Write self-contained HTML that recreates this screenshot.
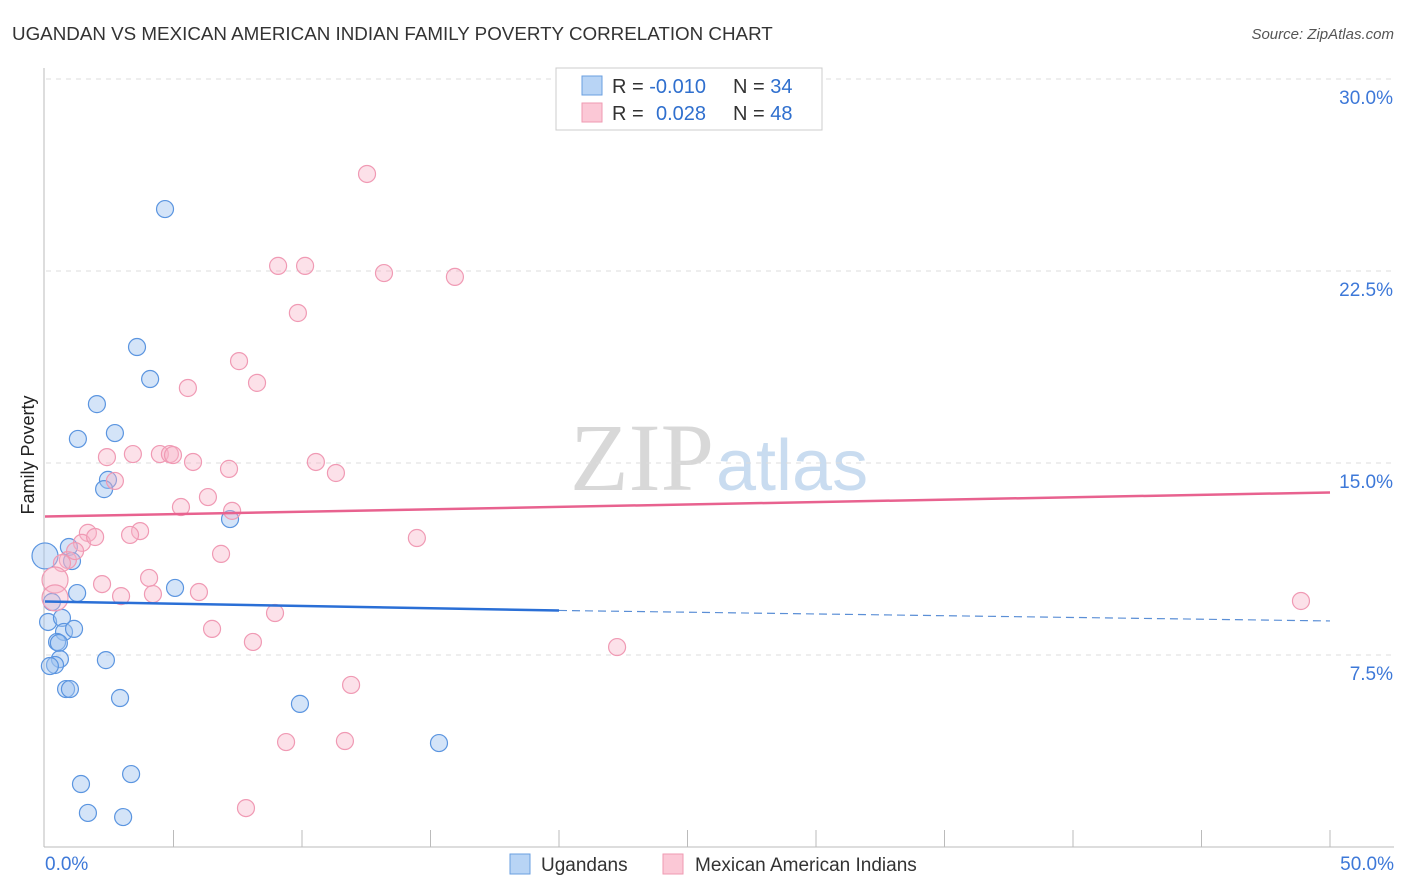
<!DOCTYPE html>
<html><head><meta charset="utf-8"><style>
body{margin:0;background:#fff;font-family:"Liberation Sans",sans-serif}
svg{display:block}
</style></head><body>
<svg id="c" width="1406" height="892">
<text x="12" y="40" font-size="18.8" fill="#333">UGANDAN VS MEXICAN AMERICAN INDIAN FAMILY POVERTY CORRELATION CHART</text>
<text x="1394" y="39" font-size="15" fill="#555" font-style="italic" text-anchor="end">Source: ZipAtlas.com</text>
<text x="714" y="490" font-size="96" fill="#d8d8d8" text-anchor="end" font-family="Liberation Serif,serif">ZIP</text>
<text x="716" y="490" font-size="72" fill="#c9dcf0">atlas</text>
<text x="34" y="455" font-size="18" fill="#222" text-anchor="middle" transform="rotate(-90 34 455)">Family Poverty</text>
<g id="grid"></g><g id="pts"></g><g id="lines"></g>
<g>
<rect x="556" y="68" width="266" height="62" fill="#fff" stroke="#ccc"/>
<rect x="582" y="76" width="20" height="19" fill="#b8d4f5" stroke="#6a9fe0"/>
<rect x="582" y="103" width="20" height="19" fill="#fbc8d6" stroke="#ef9ab2"/>
<text x="612" y="93" font-size="20" fill="#333">R = <tspan fill="#2f6fce">-0.010</tspan><tspan x="733">N = </tspan><tspan fill="#2f6fce">34</tspan></text>
<text x="612" y="120" font-size="20" fill="#333">R = <tspan fill="#2f6fce" x="656">0.028</tspan><tspan x="733">N = </tspan><tspan fill="#2f6fce">48</tspan></text>
</g>
<g>
<rect x="510" y="854" width="20" height="20" fill="#b8d4f5" stroke="#6a9fe0"/>
<text x="541" y="871" font-size="19" fill="#333">Ugandans</text>
<rect x="663" y="854" width="20" height="20" fill="#fbc8d6" stroke="#ef9ab2"/>
<text x="695" y="871" font-size="19" fill="#333">Mexican American Indians</text>
</g>
</svg>
<script>
const xTickLabels=["0.0%","50.0%"];
const yTicks=[7.5,15,22.5,30];
const yTickLabels=["7.5%","15.0%","22.5%","30.0%"];
const blueX=[4.67,3.58,4.09,2.02,1.28,2.72,2.45,2.30,7.20,0.93,1.05,0,5.06,1.25,0.27,0.12,0.66,0.74,1.13,0.47,0.54,0.58,0.39,0.19,2.37,0.82,0.97,2.92,9.92,15.33,1.40,3.35,1.67,3.04];
const blueY=[24.92,19.53,18.28,17.30,15.94,16.17,14.34,13.98,12.81,11.72,11.17,11.37,10.12,9.92,9.57,8.79,8.95,8.40,8.52,8.01,7.97,7.34,7.11,7.07,7.30,6.17,6.17,5.82,5.59,4.06,2.46,2.85,1.33,1.17];
const pinkX=[12.53,9.07,10.12,13.19,15.95,9.84,7.55,5.56,8.25,2.41,3.42,4.47,4.86,4.98,5.76,7.16,10.54,11.32,2.72,6.34,5.29,7.28,1.67,1.44,1.95,3.70,3.31,14.47,0.89,0.66,1.17,6.85,0.39,4.05,2.22,0.39,2.96,4.20,5.99,8.95,6.50,8.09,22.26,11.91,9.38,11.67,7.82,48.87];
const pinkY=[26.29,22.70,22.70,22.42,22.27,20.86,18.98,17.93,18.13,15.23,15.35,15.35,15.35,15.31,15.04,14.77,15.04,14.61,14.30,13.67,13.28,13.13,12.27,11.88,12.11,12.34,12.19,12.07,11.21,11.09,11.56,11.45,10.43,10.51,10.27,9.73,9.80,9.88,9.96,9.14,8.52,8.01,7.81,6.33,4.10,4.14,1.52,9.61];
const blueTrend=[9.59,9.24,8.83];
const pinkTrend=[12.91,13.85];
const X=v=>45+v*25.7, Y=v=>847-v*25.6;
const NS="http://www.w3.org/2000/svg";
function mk(t,a,p){const e=document.createElementNS(NS,t);for(const k in a)e.setAttribute(k,a[k]);p.appendChild(e);return e;}
const g=document.getElementById('grid');
const ax=mk('line',{x1:44,y1:68,x2:44,y2:847,stroke:'#bbb'},g);


const bx=mk('line',{x1:44,y1:847,x2:1394,y2:847,stroke:'#bbb'},g);


for(let i=1;i<=10;i++){const t=mk('line',{x1:X(i*5),y1:830,x2:X(i*5),y2:847,stroke:'#bbb'},g);

}
yTicks.forEach((v,i)=>{const l=mk('line',{x1:46,y1:Y(v),x2:1394,y2:Y(v),stroke:'#ddd','stroke-dasharray':'5,5'},g);


const t=mk('text',{x:1393,y:Y(v)+25,'font-size':19,fill:'#3d78d8','text-anchor':'end'},g);t.textContent=yTickLabels[i];

});
[[X(0)+0,'start'],[1394,'end']].forEach((p,i)=>{const t=mk('text',{x:p[0],y:870,'font-size':19,fill:'#3d78d8','text-anchor':p[1]},g);t.textContent=xTickLabels[i];

});
const pg=document.getElementById('pts');
blueX.forEach((v,i)=>{const c=mk('circle',{cx:X(v),cy:Y(blueY[i]),r:v===0?13:8.5,fill:'rgba(160,195,240,0.45)',stroke:'#5b95e0','stroke-width':1.2},pg);

});
pinkX.forEach((v,i)=>{const c=mk('circle',{cx:X(v),cy:Y(pinkY[i]),r:v<0.5?13:8.5,fill:'rgba(248,180,200,0.4)',stroke:'#f09ab4','stroke-width':1.2},pg);

});
const lg=document.getElementById('lines');
let l=mk('line',{x1:X(0),y1:Y(blueTrend[0]),x2:X(20),y2:Y(blueTrend[1]),stroke:'#2a6fd6','stroke-width':2.5},lg);


l=mk('line',{x1:X(20),y1:Y(blueTrend[1]),x2:X(50),y2:Y(blueTrend[2]),stroke:'#5b8fd6','stroke-width':1.2,'stroke-dasharray':'8,5'},lg);


l=mk('line',{x1:X(0),y1:Y(pinkTrend[0]),x2:X(50),y2:Y(pinkTrend[1]),stroke:'#e8628f','stroke-width':2.5},lg);


</script>
</body></html>
